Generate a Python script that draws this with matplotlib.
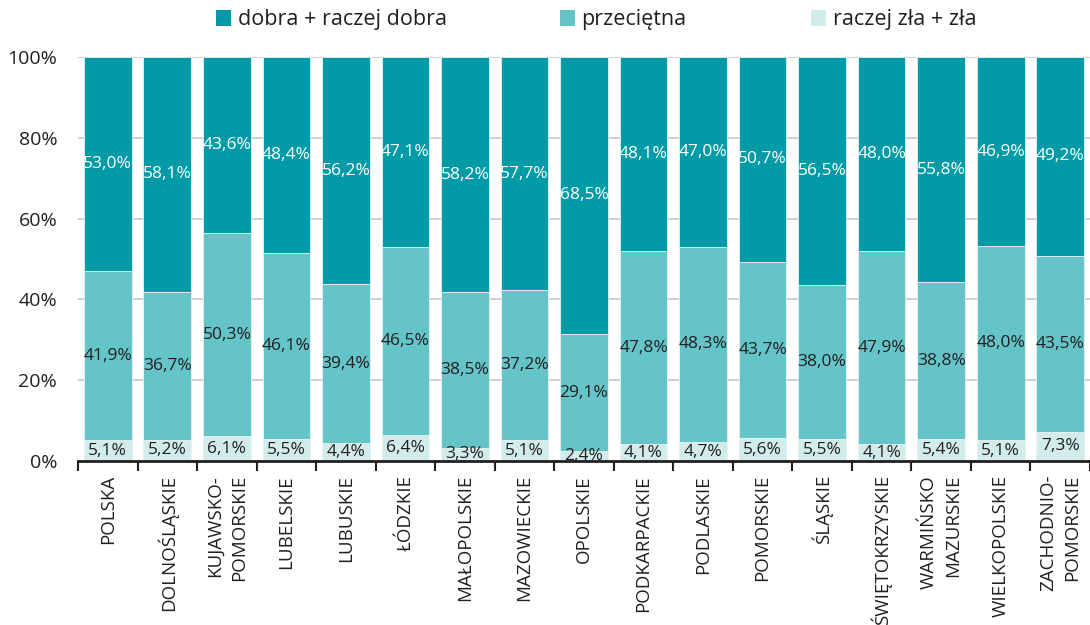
import matplotlib
matplotlib.use("Agg")
import matplotlib.pyplot as plt
import numpy as np

# regions (17 bars)
regiony = ["POLSKA", "DOLNOŚLĄSKIE", "KUJAWSKO-\nPOMORSKIE", "LUBELSKIE", "LUBUSKIE",
           "ŁÓDZKIE", "MAŁOPOLSKIE", "MAZOWIECKIE", "OPOLSKIE", "PODKARPACKIE",
           "PODLASKIE", "POMORSKIE", "ŚLĄSKIE", "ŚWIĘTOKRZYSKIE", "WARMIŃSKO\nMAZURSKIE",
           "WIELKOPOLSKIE", "ZACHODNIO-\nPOMORSKIE"]

zla = [5.1, 5.2, 6.1, 5.5, 4.4, 6.4, 3.3, 5.1, 2.4, 4.1, 4.7, 5.6, 5.5, 4.1, 5.4, 5.1, 7.3]
przecietna = [41.9, 36.7, 50.3, 46.1, 39.4, 46.5, 38.5, 37.2, 29.1, 47.8, 48.3, 43.7, 38.0, 47.9, 38.8, 48.0, 43.5]
dobra = [53.0, 58.1, 43.6, 48.4, 56.2, 47.1, 58.2, 57.7, 68.5, 48.1, 47.0, 50.7, 56.5, 48.0, 55.8, 46.9, 49.2]

serie = [("raczej zła + zła", zla, "#d2ecec", "#231f20"),
         ("przeciętna", przecietna, "#64c4c8", "#231f20"),
         ("dobra + raczej dobra", dobra, "#009ba6", "white")]

txt_font = ["Open Sans", "DejaVu Sans"]

fig = plt.figure(figsize=(10.9, 6.25), dpi=100)
ax = fig.add_axes([78 / 1090, 1 - 461 / 625, 1 - 78 / 1090, (461 - 57) / 625])

x = np.arange(len(regiony))
bottom = np.zeros(len(regiony))
handles = {}
for nazwa, vals, kolor, kol_txt in serie:
    vals = np.array(vals)
    b = ax.bar(x, vals, 0.8, bottom=bottom, color=kolor, edgecolor="#e8f4f4",
               linewidth=0.6, zorder=2)
    handles[nazwa] = b
    for xi, v, b0 in zip(x, vals, bottom):
        ax.text(xi, b0 + v / 2, f"{v:.1f}%".replace(".", ","), ha="center", va="center",
                color=kol_txt, fontsize=12.5, family=txt_font, zorder=3, clip_on=False)
    bottom += vals

ax.set_ylim(0, 100)
ax.set_xlim(-0.5, (1090 - 78) / 60 - 0.5)
ax.set_yticks([0, 20, 40, 60, 80, 100])
ax.set_yticklabels([f"{t}%" for t in [0, 20, 40, 60, 80, 100]], family=txt_font,
                   fontsize=14, color="#231f20")
ax.tick_params(axis="y", length=0, pad=15)
ax.yaxis.grid(True, color="#c8c8c8", linewidth=1.2, zorder=0)
ax.set_axisbelow(True)

ax.set_xticks(x)
ax.set_xticklabels(regiony, rotation=90, family=txt_font, fontsize=13.5, color="#231f20",
                   ha="center", va="top", multialignment="right", linespacing=1.45)
ax.tick_params(axis="x", length=0, pad=10)
ax.set_xticks(np.arange(len(regiony) + 1) - 0.5, minor=True)
ax.tick_params(axis="x", which="minor", length=7, width=1.5, color="#231f20")

for s in ["top", "right", "left"]:
    ax.spines[s].set_visible(False)
ax.spines["bottom"].set_linewidth(2)
ax.spines["bottom"].set_color("#231f20")

# legend - three separate entries across the top
for nazwa, xpos in [("dobra + raczej dobra", 216 / 1090), ("przeciętna", 560 / 1090),
                    ("raczej zła + zła", 811 / 1090)]:
    leg = fig.legend([handles[nazwa]], [nazwa], loc="center left",
                     bbox_to_anchor=(xpos, 1 - 20 / 625), frameon=False,
                     handlelength=0.7, handleheight=0.7, handletextpad=0.3,
                     borderpad=0, borderaxespad=0,
                     prop={"family": txt_font, "size": 15.5})
    for t in leg.get_texts():
        t.set_color("#231f20")
    for p in leg.get_patches():
        p.set_edgecolor("none")

fig.savefig("out.png", dpi=100)
